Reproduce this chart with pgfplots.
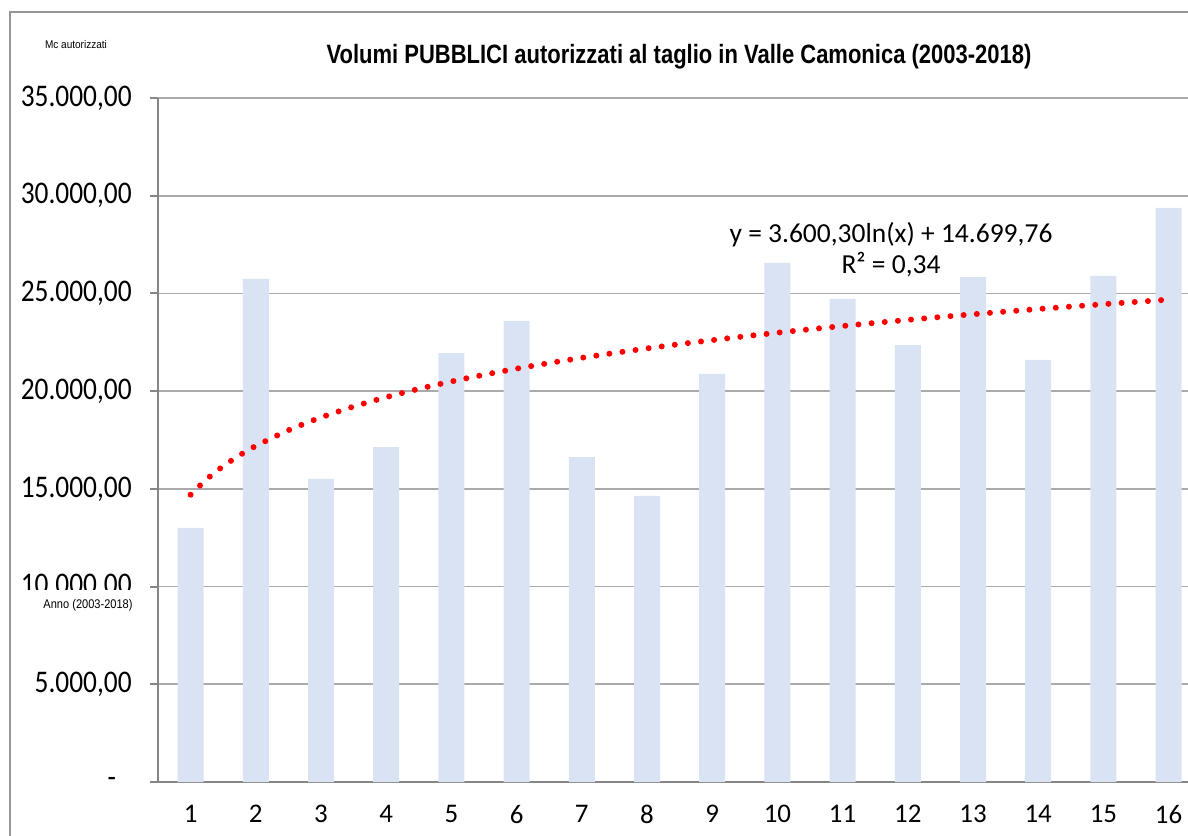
\documentclass[border=0pt]{standalone}
\usepackage{pgfplots}
\pgfplotsset{compat=1.18}
\usepackage{fontspec}
\setmainfont{Carlito}
\newfontfamily\arialf{Liberation Sans}
\definecolor{barblue}{RGB}{218,227,243}
\definecolor{gridgray}{RGB}{170,170,170}
\definecolor{axgray}{RGB}{134,134,134}
\definecolor{framegray}{RGB}{150,150,150}
\begin{document}
\begin{tikzpicture}[x=1bp,y=1bp]
\useasboundingbox (0,0) rectangle (594,417.5);
\draw[framegray, line width=0.9bp] (5,-5) -- (5,411.5) -- (600,411.5);
\begin{axis}[
  at={(79bp,26.5bp)}, anchor=south west,
  scale only axis, width=521.6bp, height=342bp,
  xmin=0.5, xmax=16.5, ymin=0, ymax=35000,
  scaled y ticks=false,
  axis x line*=bottom, axis y line*=left,
  axis line style={draw=axgray, line width=1bp, -},
  ymajorgrids, grid style={gridgray, line width=0.9bp},
  ytick={0,5000,10000,15000,20000,25000,30000,35000},
  yticklabels={{-\kern9bp\null},{5.000,00},{10.000,00},{15.000,00},{20.000,00},{25.000,00},{30.000,00},{35.000,00}},
  xtick={1,2,3,4,5,6,7,8,9,10,11,12,13,14,15,16},
  xticklabels={1,2,3,4,5,6,7,8,9,10,11,12,13,14,15,16},
  tick align=outside, major tick length=4bp,
  y tick style={draw=axgray, line width=1bp},
  x tick style={draw=none},
  yticklabel style={font=\fontsize{15.8}{18}\selectfont, xscale=0.87, anchor=east, xshift=-7bp},
  xticklabel style={font=\fontsize{13.5}{16}\selectfont, yshift=-4bp},
  clip=false,
]
\addplot[ybar, bar width=13bp, fill=barblue, draw=none] coordinates {
(1,13000) (2,25740) (3,15510) (4,17140) (5,21950) (6,23590) (7,16630) (8,14640)
(9,20880) (10,26560) (11,24720) (12,22360) (13,25840) (14,21600) (15,25900) (16,29380)
};
\addplot[red, line width=3bp, line cap=round, dash pattern=on 0bp off 6.6bp, smooth] coordinates {
(1,14699.8) (1.25,15503.1) (1.5,16159.6) (1.75,16714.5) (2,17195.3) (2.5,17998.6) (3,18655.1) (3.5,19210.0)
(4,19690.9) (4.5,20114.9) (5,20494.2) (5.5,20837.3) (6,21150.6) (6.5,21438.8) (7,21705.6)
(7.5,21954.0) (8,22186.4) (8.5,22404.6) (9,22610.4) (9.5,22805.1) (10,22989.7) (10.5,23165.4)
(11,23332.9) (11.5,23492.9) (12,23646.1) (12.5,23793.1) (13,23934.3) (13.5,24070.2) (14,24201.2)
(14.5,24327.5) (15,24449.5) (15.5,24567.6) (16,24681.9)
};
\end{axis}
\fill[white] (6,106) rectangle (78.5,122.5);
\node[font=\arialf\fontsize{6.3}{7.5}\selectfont, xscale=0.88] at (44,115) {Anno (2003-2018)};
\node[font=\arialf\fontsize{5.6}{6.5}\selectfont, xscale=0.9] at (38,395) {Mc autorizzati};
\node[font=\arialf\bfseries\fontsize{13.3}{16}\selectfont, xscale=0.83] at (339.5,389) {Volumi PUBBLICI autorizzati al taglio in Valle Camonica (2003-2018)};
\node[font=\fontsize{13.8}{16}\selectfont] at (445.5,300) {y = 3.600,30ln(x) + 14.699,76};
\node[font=\fontsize{13.8}{16}\selectfont] at (445.5,285) {R² = 0,34};
\end{tikzpicture}
\end{document}
